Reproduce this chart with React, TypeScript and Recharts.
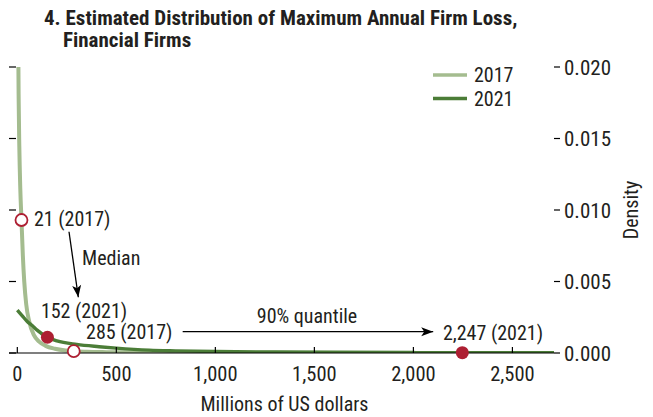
import React from 'react';
import { ComposedChart, Line, XAxis, YAxis, ReferenceDot, ReferenceLine } from 'recharts';

const FONT = '"Liberation Sans Narrow", "Arial Narrow", "Roboto Condensed", "Liberation Sans", sans-serif';
const TEXT = '#231f20';
const RED = '#ad1f32';

const title1 = '4. Estimated Distribution of Maximum Annual Firm Loss,';
const title2 = 'Financial Firms';
const xLabel = 'Millions of US dollars';
const yLabel = 'Density';

const xTicks = [0, 500, 1000, 1500, 2000, 2500];
const yTicks = [0, 0.005, 0.01, 0.015, 0.02];
const xDomain = [-42, 2710];
const yDomain = [0, 0.02];

const seriesNames = ['2017', '2021'];
const seriesColors = ['#a4bc8f', '#4b7d37'];
const seriesWidths = [4, 3.4];

const loss2017 = [3, 5, 7, 10, 15, 21, 28, 35, 45, 60, 84, 110, 143, 190, 244, 285, 350, 450, 600, 800, 1100, 1500, 2000, 2710];
const density2017 = [0.03, 0.021, 0.0175, 0.0145, 0.0115, 0.0093, 0.0068, 0.005, 0.0034, 0.0022, 0.00125, 0.0008, 0.0005, 0.0003, 0.00018, 0.00013, 0.00009, 0.00006, 0.000035, 0.00002, 0.000012, 0.000007, 0.000004, 0.000002];

const loss2021 = [0, 25, 50, 75, 100, 152, 200, 300, 413, 500, 666, 800, 1000, 1300, 1600, 2000, 2247, 2710];
const density2021 = [0.003, 0.0026, 0.0022, 0.00192, 0.0016, 0.0011, 0.00085, 0.0006, 0.00044, 0.00034, 0.0002, 0.00015, 0.0001, 0.00007, 0.00005, 0.00003, 0.000025, 0.000015];

// markers: median and 90% quantile
const markerLoss = [21, 152, 285, 2247];
const markerDensity = [0.0093, 0.0011, 0.00013, 0.00002];
const markerFilled = [false, true, false, true];

// text annotations (data coordinates)
const noteText = ['21 (2017)', 'Median', '152 (2021)', '285 (2017)', '90% quantile', '2,247 (2021)'];
const noteLoss = [84, 327, 119, 347, 1463, 2149];
const noteDensity = [0.00937, 0.00664, 0.00294, 0.00147, 0.00257, 0.0014];
const noteAnchor = ['start', 'start', 'start', 'start', 'middle', 'start'];

// arrows: start -> tip (data coordinates), head angle in degrees (screen)
const arrowFromLoss = [261, 835];
const arrowFromDensity = [0.00848, 0.00149];
const arrowToLoss = [308, 2100];
const arrowToDensity = [0.0039, 0.00149];
const arrowAngle = [82, 0];

const series2017 = loss2017.map((x, i) => ({ x, y: density2017[i] }));
const series2021 = loss2021.map((x, i) => ({ x, y: density2021[i] }));
const seriesData = [series2017, series2021];

const fmtX = (v: number) => v.toLocaleString('en-US');
const fmtY = (v: number) => v.toFixed(3);

const XTick = (props: any) => {
  const { x, y, payload } = props;
  return (
    <g>
      <line x1={x} x2={x} y1={y} y2={y - 6} stroke="#000" strokeWidth={1.2} />
      <text x={x} y={y + 28} textAnchor="middle" fontSize={20.5} fill={TEXT} fontFamily={FONT}>
        {fmtX(payload.value)}
      </text>
    </g>
  );
};

const RightTick = (props: any) => {
  const { x, y, payload } = props;
  return (
    <text x={x} y={y} dy="0.36em" textAnchor="start" fontSize={21} fill={TEXT} fontFamily={FONT}>
      {fmtY(payload.value)}
    </text>
  );
};

const makeNote = (text: string, anchor: string) => (props: any) => (
  <text x={props.cx} y={props.cy} dy="0.36em" textAnchor={anchor as any} fontSize={20} fill={TEXT} fontFamily={FONT}>
    {text}
  </text>
);

const makeHead = (angle: number) => (props: any) => {
  const { cx, cy } = props;
  return (
    <polygon
      points={`${cx},${cy} ${cx - 12},${cy - 4.5} ${cx - 9},${cy} ${cx - 12},${cy + 4.5}`}
      fill="#000"
      transform={`rotate(${angle}, ${cx}, ${cy})`}
    />
  );
};

const makeMarker = (filled: boolean) => (props: any) => (
  <circle
    cx={props.cx}
    cy={props.cy}
    r={filled ? 6.5 : 6}
    fill={filled ? RED : '#fff'}
    stroke={RED}
    strokeWidth={filled ? 0 : 1.8}
  />
);

export default function App() {
  return (
    <div style={{ position: 'absolute', left: 0, top: 0, width: 653, height: 417, background: '#fff', fontFamily: FONT }}>
      <ComposedChart width={653} height={417} margin={{ top: 67, right: 0, left: 9, bottom: 0 }}>
        <XAxis
          xAxisId="x"
          dataKey="x"
          type="number"
          domain={xDomain}
          ticks={xTicks}
          interval={0}
          allowDataOverflow
          height={64}
          tickLine={false}
          tickSize={0}
          tickMargin={0}
          axisLine={{ stroke: '#000', strokeWidth: 1.2 }}
          tick={<XTick />}
          label={{
            content: (p: any) => {
              const vb = p.viewBox || { x: 10, y: 353, width: 544 };
              return (
                <text x={vb.x + vb.width / 2 + 3} y={vb.y + 58} textAnchor="middle" fontSize={20} fill={TEXT} fontFamily={FONT}>
                  {xLabel}
                </text>
              );
            },
          }}
        />
        <YAxis
          yAxisId="l"
          orientation="left"
          type="number"
          domain={yDomain}
          ticks={yTicks}
          interval={0}
          width={1}
          mirror
          allowDataOverflow
          axisLine={false}
          tickSize={7}
          tickLine={{ stroke: '#000', strokeWidth: 1.2 }}
          tick={() => null}
        />
        <YAxis
          yAxisId="r"
          orientation="right"
          type="number"
          domain={yDomain}
          ticks={yTicks}
          interval={0}
          width={99}
          allowDataOverflow
          axisLine={false}
          tickSize={6}
          tickMargin={4}
          tickLine={{ stroke: '#000', strokeWidth: 1.2 }}
          tick={<RightTick />}
          label={{
            content: (p: any) => {
              const vb = p.viewBox || { x: 554, y: 67, height: 286 };
              const cx = vb.x + 84;
              const cy = vb.y + vb.height / 2;
              return (
                <text x={cx} y={cy} textAnchor="middle" fontSize={20} fill={TEXT} fontFamily={FONT} transform={`rotate(-90, ${cx}, ${cy})`}>
                  {yLabel}
                </text>
              );
            },
          }}
        />
        {seriesData.map((d, i) => (
          <Line
            key={seriesNames[i]}
            xAxisId="x"
            yAxisId="r"
            data={d}
            dataKey="y"
            name={seriesNames[i]}
            type="monotone"
            stroke={seriesColors[i]}
            strokeWidth={seriesWidths[i]}
            dot={false}
            activeDot={false}
            isAnimationActive={false}
          />
        ))}
        {arrowFromLoss.map((_, i) => (
          <ReferenceLine
            key={'al' + i}
            xAxisId="x"
            yAxisId="r"
            ifOverflow="visible"
            segment={[
              { x: arrowFromLoss[i], y: arrowFromDensity[i] },
              { x: arrowToLoss[i], y: arrowToDensity[i] },
            ]}
            stroke="#000"
            strokeWidth={1.3}
          />
        ))}
        {arrowToLoss.map((x, i) => (
          <ReferenceDot
            key={'ah' + i}
            xAxisId="x"
            yAxisId="r"
            x={x}
            y={arrowToDensity[i]}
            r={1}
            ifOverflow="visible"
            shape={makeHead(arrowAngle[i])}
          />
        ))}
        {noteText.map((t, i) => (
          <ReferenceDot
            key={'n' + i}
            xAxisId="x"
            yAxisId="r"
            x={noteLoss[i]}
            y={noteDensity[i]}
            r={1}
            ifOverflow="visible"
            shape={makeNote(t, noteAnchor[i])}
          />
        ))}
        {markerLoss.map((x, i) => (
          <ReferenceDot
            key={'m' + i}
            xAxisId="x"
            yAxisId="r"
            x={x}
            y={markerDensity[i]}
            r={6}
            ifOverflow="visible"
            shape={makeMarker(markerFilled[i])}
          />
        ))}
      </ComposedChart>
      <svg width={653} height={417} style={{ position: 'absolute', left: 0, top: 0, pointerEvents: 'none' }}>
        <text x={44} y={25} fontSize={21} fontWeight="bold" fill={TEXT} fontFamily={FONT}>{title1}</text>
        <text x={63} y={47} fontSize={21} fontWeight="bold" fill={TEXT} fontFamily={FONT}>{title2}</text>
        {seriesNames.map((n, i) => (
          <g key={n}>
            <line x1={433} x2={467} y1={75 + i * 23.5} y2={75 + i * 23.5} stroke={seriesColors[i]} strokeWidth={3.5} />
            <text x={474} y={75 + i * 23.5} dy="0.36em" fontSize={20} fill={TEXT} fontFamily={FONT}>{n}</text>
          </g>
        ))}
      </svg>
    </div>
  );
}
